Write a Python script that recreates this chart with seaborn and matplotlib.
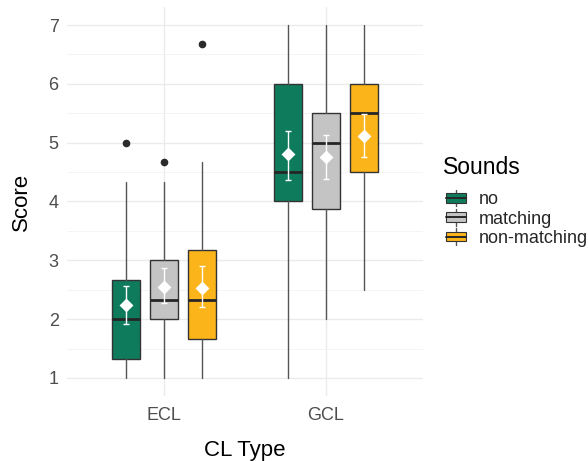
import matplotlib
matplotlib.use("Agg")
import matplotlib.pyplot as plt
from matplotlib.legend_handler import HandlerBase
from matplotlib.patches import Rectangle
from matplotlib.lines import Line2D
import seaborn as sns
import pandas as pd

# Summary statistics per CL type (rows follow the sound conditions)
cl_types = ["ECL", "GCL"]
sounds = ["no", "matching", "non-matching"]
colors = ["#0f7b5d", "#c4c4c4", "#fbb41a"]

q1 = {"ECL": [1.33, 2.00, 1.67], "GCL": [4.00, 3.87, 4.50]}
median = {"ECL": [2.00, 2.33, 2.33], "GCL": [4.50, 5.00, 5.50]}
q3 = {"ECL": [2.67, 3.00, 3.17], "GCL": [6.00, 5.50, 6.00]}
whisker_low = {"ECL": [1.00, 1.00, 1.00], "GCL": [1.00, 2.00, 2.50]}
whisker_high = {"ECL": [4.33, 4.33, 4.67], "GCL": [7.00, 7.00, 7.00]}
outliers = {"ECL": [[5.00], [4.67], [6.67]], "GCL": [[], [], []]}
mean = {"ECL": [2.24, 2.55, 2.53], "GCL": [4.81, 4.76, 5.12]}
ci_low = {"ECL": [1.92, 2.27, 2.20], "GCL": [4.36, 4.38, 4.75]}
ci_high = {"ECL": [2.57, 2.87, 2.91], "GCL": [5.20, 5.13, 5.48]}

sns.set_theme(style="whitegrid")
plt.rcParams["font.family"] = ["Liberation Sans", "DejaVu Sans"]

W, H = 588, 461
fig = plt.figure(figsize=(W / 100, H / 100), dpi=100)
ax = fig.add_axes([67 / W, 1 - 395.6 / H, (423 - 67) / W, (395.6 - 7.4) / H])

group_width = 0.705
slot = group_width / len(sounds)
box_width = slot * 0.72
edge = "#333333"

rows = []
for ci, cl in enumerate(cl_types):
    for si, snd in enumerate(sounds):
        pos = ci + 1 + (si - (len(sounds) - 1) / 2) * slot
        stats = dict(
            med=median[cl][si], q1=q1[cl][si], q3=q3[cl][si],
            whislo=whisker_low[cl][si], whishi=whisker_high[cl][si],
            fliers=outliers[cl][si],
        )
        ax.bxp(
            [stats], positions=[pos], widths=box_width, patch_artist=True,
            showcaps=False, manage_ticks=False,
            boxprops=dict(facecolor=colors[si], edgecolor=edge, linewidth=1.0),
            medianprops=dict(color="#262626", linewidth=2.0),
            whiskerprops=dict(color="#555555", linewidth=1.0),
            flierprops=dict(marker="o", markersize=4.5, markerfacecolor="#2b2b2b",
                            markeredgecolor="#2b2b2b"),
        )
        rows.append(dict(pos=pos, mean=mean[cl][si], lo=ci_low[cl][si], hi=ci_high[cl][si]))

means = pd.DataFrame(rows)
ax.errorbar(means["pos"], means["mean"],
            yerr=[means["mean"] - means["lo"], means["hi"] - means["mean"]],
            fmt="none", ecolor="white", elinewidth=1.0, capsize=2, capthick=1.0, zorder=4)
sns.scatterplot(data=means, x="pos", y="mean", marker="D", s=50, color="white",
                edgecolor="white", linewidth=0, zorder=5, ax=ax, legend=False)

ax.set_xlim(0.4, 2.6)
ax.set_ylim(0.7, 7.3)
ax.set_xticks([1, 2])
ax.set_xticklabels(cl_types)
ax.set_yticks(range(1, 8))
ax.set_yticks([1.5, 2.5, 3.5, 4.5, 5.5, 6.5], minor=True)
ax.grid(True, which="major", color="#ebebeb", linewidth=1.0)
ax.grid(True, which="minor", axis="y", color="#f2f2f2", linewidth=0.6)
ax.set_axisbelow(True)
for s in ax.spines.values():
    s.set_visible(False)
ax.set_facecolor("white")
ax.tick_params(axis="both", which="both", length=0, labelsize=13, colors="#4d4d4d", pad=6)
ax.tick_params(axis="x", pad=8)
ax.set_xlabel("CL Type", fontsize=16, color="black", labelpad=12)
ax.set_ylabel("Score", fontsize=16, color="black", labelpad=12)


class BoxKeyHandler(HandlerBase):
    def create_artists(self, legend, orig_handle, xdescent, ydescent, width, height, fontsize, trans):
        cx = width / 2 - xdescent
        cy = height / 2 - ydescent
        bw = width * 0.95
        bh = height * 0.7
        whisk = Line2D([cx, cx], [cy - height * 0.6, cy + height * 0.6],
                       color="#555555", linewidth=1.0, transform=trans)
        rect = Rectangle((cx - bw / 2, cy - bh / 2), bw, bh,
                         facecolor=orig_handle.get_facecolor(), edgecolor=edge,
                         linewidth=0.8, transform=trans)
        med = Line2D([cx - bw / 2, cx + bw / 2], [cy, cy], color="#262626",
                     linewidth=1.4, transform=trans)
        return [whisk, rect, med]


# Legend title set apart from the keys, as in a ggplot guide
fig.text(443 / W, 1 - 167 / H, "Sounds", fontsize=16.5, ha="left", va="center", color="black")
handles = [Rectangle((0, 0), 1, 1, facecolor=c) for c in colors]
leg = fig.legend(handles, sounds, handler_map={Rectangle: BoxKeyHandler()},
                 loc="upper left", bbox_to_anchor=(445 / W, 1 - 191 / H),
                 frameon=False, fontsize=13, borderpad=0,
                 handlelength=1.2, handleheight=0.8, handletextpad=0.65,
                 labelspacing=0.12, borderaxespad=0)

fig.savefig("out.png", dpi=100, facecolor="white")
